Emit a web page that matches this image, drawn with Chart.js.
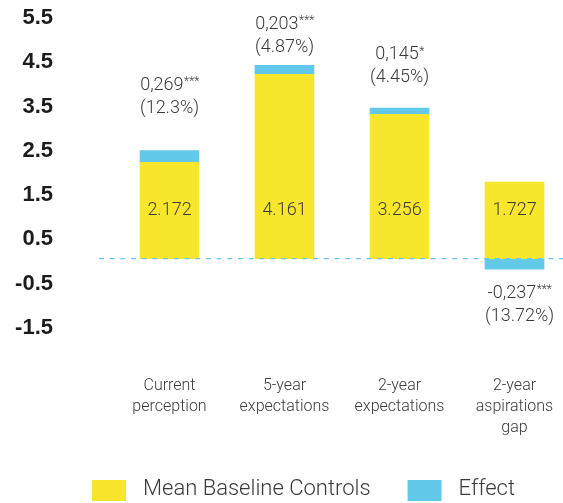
<!DOCTYPE html>
<html>
<head>
<meta charset="utf-8">
<script src="https://cdn.jsdelivr.net/npm/chart.js@4/dist/chart.umd.min.js"></script>
<style>
  html, body { margin: 0; padding: 0; background: #ffffff; }
  #wrap { width: 563px; height: 503px; }
</style>
</head>
<body>
<div id="wrap"><canvas id="chart" width="563" height="503"></canvas></div>
<script>
// ---- data ----
const CATEGORIES = [
  ['Current', 'perception'],
  ['5-year', 'expectations'],
  ['2-year', 'expectations'],
  ['2-year', 'aspirations', 'gap']
];
const SERIES_NAMES = ['Mean Baseline Controls', 'Effect'];
const BASELINE = [2.172, 4.161, 3.256, 1.727];
const EFFECT = [0.269, 0.203, 0.145, -0.237];
const EFFECT_STARS = ['***', '***', '*', '***'];
const EFFECT_PCT = ['12.3%', '4.87%', '4.45%', '13.72%'];
const Y_TICKS = [-1.5, -0.5, 0.5, 1.5, 2.5, 3.5, 4.5, 5.5];

// ---- styles ----
const YELLOW = '#F7E62B';
const BLUE = '#63C9EA';
const TEXT = '#3a3a3a';
const FAMILY = 'Roboto, "Liberation Sans", Arial, sans-serif';

// zero reference line, in-bar baseline values and effect annotations
const annotate = {
  id: 'annotate',
  afterDatasetsDraw(chart, args, o) {
    const ctx = chart.ctx;
    const yScale = chart.scales.y;
    const zeroY = yScale.getPixelForValue(0);

    ctx.save();
    ctx.strokeStyle = BLUE;
    ctx.lineWidth = 1.2;
    ctx.setLineDash([5, 5.7]);
    ctx.beginPath();
    ctx.moveTo(o.lineFrom, zeroY);
    ctx.lineTo(chart.width, zeroY);
    ctx.stroke();
    ctx.restore();

    const baseBars = chart.getDatasetMeta(0).data;
    const effBars = chart.getDatasetMeta(1).data;

    ctx.save();
    ctx.fillStyle = TEXT;
    ctx.textBaseline = 'middle';
    ctx.textAlign = 'center';
    ctx.font = o.innerFont;
    baseBars.forEach((bar, i) => {
      ctx.fillText(BASELINE[i].toFixed(3), bar.x, zeroY - o.innerRise);
    });

    effBars.forEach((bar, i) => {
      const v = EFFECT[i];
      const num = v.toFixed(3).replace('.', ',');
      const pct = '(' + EFFECT_PCT[i] + ')';
      const cx = bar.x + o.shift[i];
      let y1, y2;
      if (v >= 0) {
        y2 = bar.y - o.gap[i];
        y1 = y2 - o.lineGap;
      } else {
        y1 = bar.y + o.gap[i];
        y2 = y1 + o.lineGap;
      }
      ctx.font = o.font;
      const wN = ctx.measureText(num).width;
      ctx.font = o.starFont;
      const wS = ctx.measureText(EFFECT_STARS[i]).width;
      const x0 = cx - (wN + wS) / 2;
      ctx.textAlign = 'left';
      ctx.font = o.font;
      ctx.fillText(num, x0, y1);
      ctx.font = o.starFont;
      ctx.fillText(EFFECT_STARS[i], x0 + wN + 0.5, y1 - 3);
      ctx.textAlign = 'center';
      ctx.font = o.font;
      ctx.fillText(pct, cx, y2);
    });
    ctx.restore();
  }
};

// legend row under the axis labels
const keyRow = {
  id: 'keyRow',
  afterDraw(chart, args, o) {
    const ctx = chart.ctx;
    ctx.save();
    ctx.font = o.font;
    const items = chart.data.datasets.map(d => ({
      text: d.label,
      color: d.backgroundColor,
      w: ctx.measureText(d.label).width
    }));
    const total = items.reduce((s, it) => s + o.boxW + o.textGap + it.w, 0) + o.itemGap * (items.length - 1);
    let x = o.centerX - total / 2;
    ctx.textBaseline = 'middle';
    ctx.textAlign = 'left';
    items.forEach(it => {
      ctx.fillStyle = it.color;
      ctx.fillRect(x, o.top, o.boxW, o.boxH);
      x += o.boxW + o.textGap;
      ctx.fillStyle = TEXT;
      ctx.fillText(it.text, x, o.top + o.boxH / 2 - 1);
      x += it.w + o.itemGap;
    });
    ctx.restore();
  }
};

new Chart(document.getElementById('chart'), {
  type: 'bar',
  data: {
    labels: CATEGORIES,
    datasets: [
      { label: SERIES_NAMES[0], data: BASELINE, backgroundColor: YELLOW, clip: false },
      { label: SERIES_NAMES[1], data: EFFECT, backgroundColor: BLUE, clip: false }
    ]
  },
  options: {
    responsive: false,
    animation: false,
    devicePixelRatio: 1,
    layout: { padding: { top: 15, left: 0, right: 48.5, bottom: 0 } },
    datasets: { bar: { barThickness: 59 } },
    scales: {
      x: {
        stacked: true,
        offset: false,
        grid: { display: false, drawTicks: false },
        border: { display: false },
        ticks: {
          padding: 50,
          autoSkip: false,
          color: TEXT,
          font: { family: FAMILY, size: 16, weight: '300', lineHeight: '21px' },
          maxRotation: 0
        },
        afterFit(scale) {
          scale.height = 178;
          scale.paddingLeft = 0;
          scale.paddingRight = 0;
        }
      },
      y: {
        stacked: true,
        min: -1.5,
        max: 5.5,
        grid: { display: false, drawTicks: false },
        border: { display: false },
        afterBuildTicks(scale) { scale.ticks = Y_TICKS.map(v => ({ value: v })); },
        afterFit(scale) {
          scale.width = 169.5;
          scale.paddingTop = 0;
          scale.paddingBottom = 0;
        },
        ticks: {
          padding: 116.5,
          labelOffset: 3,
          autoSkip: false,
          color: '#1c1c1c',
          font: { family: '"Liberation Sans", Arial, sans-serif', size: 22, weight: 'bold' },
          callback: v => String(v)
        }
      }
    },
    plugins: {
      legend: { display: false },
      tooltip: { enabled: false },
      annotate: {
        lineFrom: 99,
        innerRise: 48,
        innerFont: '300 18px ' + FAMILY,
        font: '300 18px ' + FAMILY,
        starFont: '300 12px ' + FAMILY,
        gap: [42, 18, 30, 24],
        shift: [0, 0, 0, 5],
        lineGap: 23
      },
      keyRow: {
        font: '300 22px ' + FAMILY,
        top: 480,
        boxW: 34,
        boxH: 21,
        textGap: 17,
        itemGap: 37,
        centerX: 303.5
      }
    }
  },
  plugins: [annotate, keyRow]
});
</script>
</body>
</html>
